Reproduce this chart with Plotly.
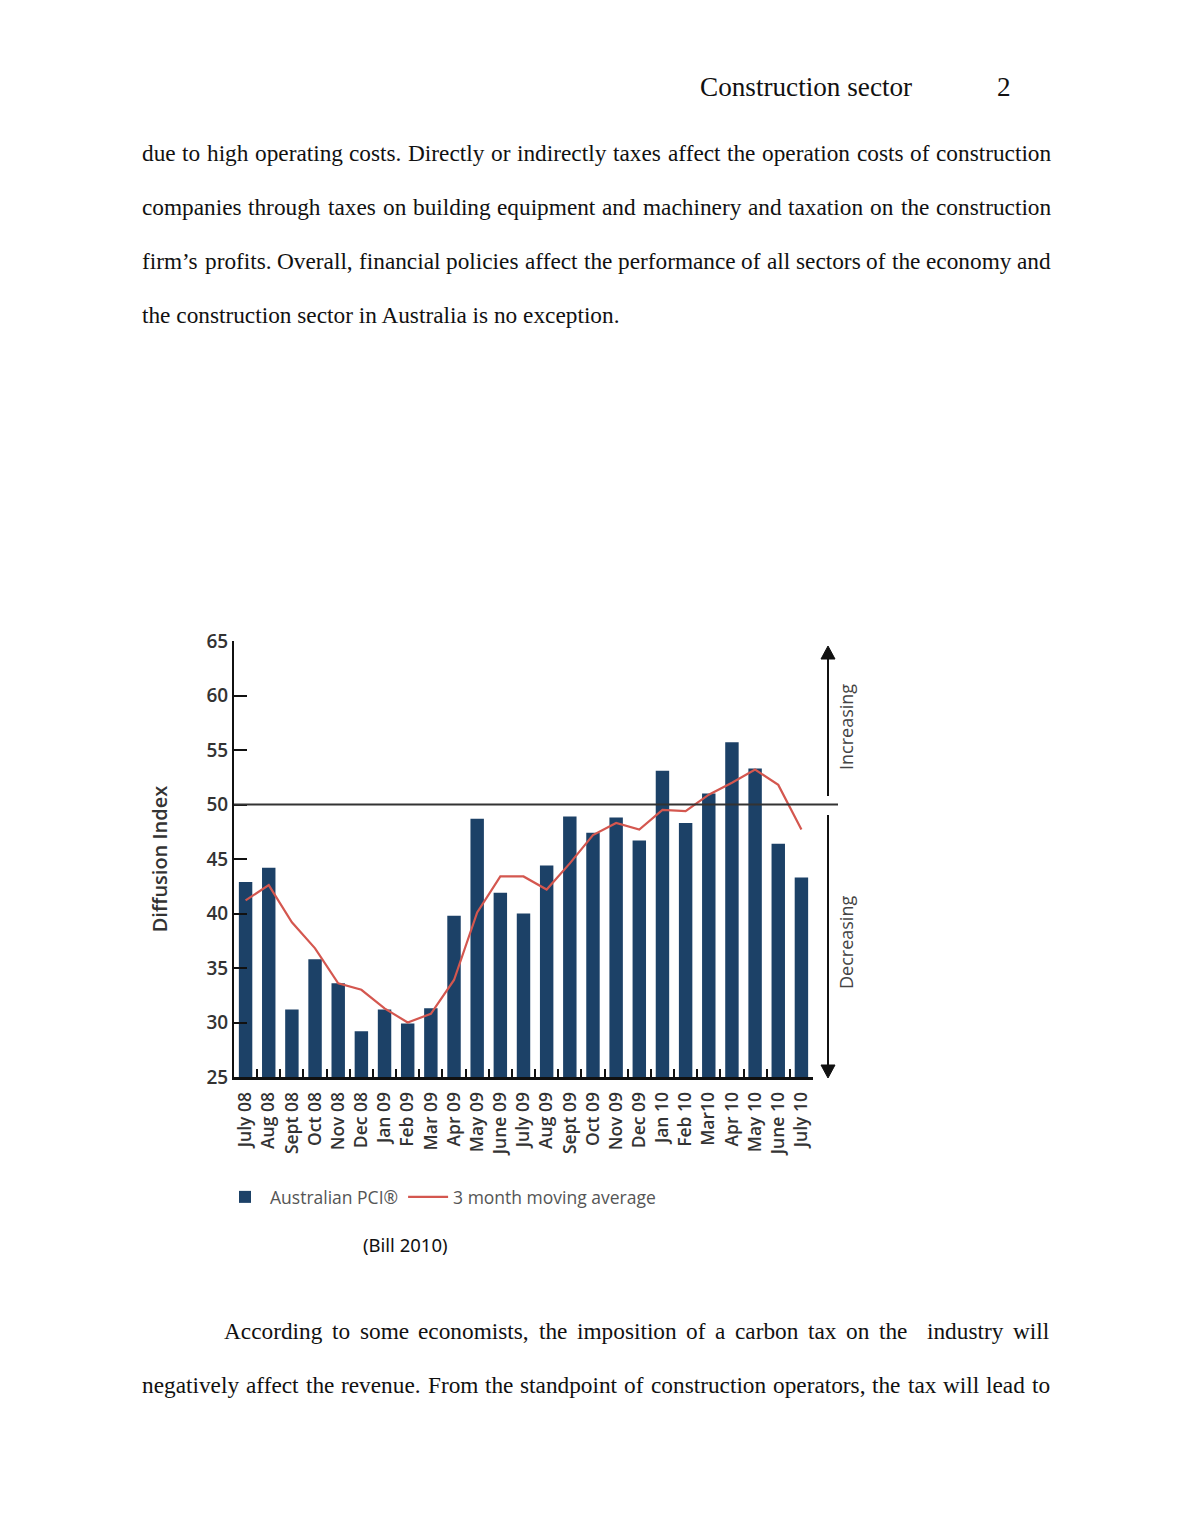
import plotly.graph_objects as go

# ---------------- data ----------------
months = ["July 08", "Aug 08", "Sept 08", "Oct 08", "Nov 08", "Dec 08", "Jan 09",
          "Feb 09", "Mar 09", "Apr 09", "May 09", "June 09", "July 09", "Aug 09",
          "Sept 09", "Oct 09", "Nov 09", "Dec 09", "Jan 10", "Feb 10", "Mar10",
          "Apr 10", "May 10", "June 10", "July 10"]
pci = [42.9, 44.2, 31.2, 35.8, 33.6, 29.2, 31.2, 29.9, 31.3, 39.8, 48.7, 41.9, 40.0,
       44.4, 48.9, 47.4, 48.8, 46.7, 53.1, 48.3, 51.0, 55.7, 53.3, 46.4, 43.3]
ma3 = [41.2, 42.6, 39.2, 36.8, 33.6, 33.0, 31.3, 30.0, 30.8, 33.9, 40.1, 43.4, 43.4,
       42.2, 44.6, 47.2, 48.3, 47.7, 49.5, 49.4, 50.9, 52.0, 53.2, 51.8, 47.7]
y_ticks = [25, 30, 35, 40, 45, 50, 55, 60, 65]

header_left = "Construction sector"
header_right = "2"
para_top = [
    "due to high operating costs. Directly or indirectly taxes affect the operation costs of construction",
    "companies through taxes on building equipment and machinery and taxation on the construction",
    "firm\u2019s profits. Overall, financial policies affect the performance of all sectors of the economy and",
    "the construction sector in Australia is no exception.",
]
para_bottom = [
    "According to some economists, the imposition of a carbon tax on the  industry will",
    "negatively affect the revenue. From the standpoint of construction operators, the tax will lead to",
]
source_note = "(Bill 2010)"

W, H = 1190, 1540
NAVY = "#1c4167"
RED = "#d4574f"
CHART_FONT = "Open Sans"
SERIF = "Liberation Serif"
BODY_SIZE = 23.3


def px_x(p):
    return p / W


def px_y(p):
    return 1 - p / H


# Times / Liberation Serif advance widths (per 1000 em) used to justify lines
_TW = dict(zip("abcdefghijklmnopqrstuvwxyz",
               [444, 500, 444, 500, 444, 333, 500, 500, 278, 278, 500, 278, 778,
                500, 500, 500, 500, 333, 389, 278, 500, 500, 722, 500, 500, 444]))
_TW.update(dict(zip("ABCDEFGHIJKLMNOPQRSTUVWXYZ",
                    [722, 667, 667, 722, 611, 556, 722, 722, 333, 389, 722, 611, 889,
                     722, 722, 556, 722, 667, 556, 611, 722, 722, 944, 722, 722, 611])))
_TW.update({".": 250, ",": 250, "\u2019": 333, " ": 250})


def word_w(word, size):
    return sum(_TW.get(ch, 500) for ch in word) * size / 1000.0


fig = go.Figure()
fig.add_trace(go.Bar(x=months, y=pci, name="Australian PCI\u00ae",
                     marker=dict(color=NAVY, line=dict(width=0)), width=0.58))
fig.add_trace(go.Scatter(x=months, y=ma3, name="3 month moving average", mode="lines",
                         line=dict(color=RED, width=2.2)))

# plot area in pixels
x0, x1 = 234, 813
y_top, y_bot = 641, 1077

fig.update_layout(
    width=W, height=H,
    margin=dict(l=0, r=0, t=0, b=0, pad=0, autoexpand=False),
    paper_bgcolor="white", plot_bgcolor="white",
    showlegend=True,
    legend=dict(orientation="h", x=px_x(220), y=px_y(1179), xanchor="left", yanchor="top",
                font=dict(family=CHART_FONT, size=17.5, color="#555555"),
                itemwidth=40, bgcolor="rgba(0,0,0,0)", traceorder="normal"),
    xaxis=dict(domain=[px_x(x0), px_x(x1)], type="category", range=[-0.5, 24.5],
               automargin=False,
               showline=True, linecolor="#111111", linewidth=3,
               ticks="inside", tickson="boundaries", ticklen=8, tickwidth=2, tickcolor="#111111",
               ticklabelstandoff=5,
               tickangle=-90, tickfont=dict(family=CHART_FONT, size=17.5, color="#333333", weight=600),
               showgrid=False, zeroline=False),
    yaxis=dict(domain=[px_y(y_bot), px_y(y_top)], range=[25, 65],
               automargin=False,
               tickvals=y_ticks, showline=True, linecolor="#111111", linewidth=2,
               ticks="inside", ticklen=13, tickwidth=2, tickcolor="#111111",
               tickfont=dict(family=CHART_FONT, size=19, color="#333333", weight=600),
               showgrid=False, zeroline=False,
               title=dict(text="Diffusion Index", standoff=33,
                          font=dict(family=CHART_FONT, size=20, color="#333333", weight=600))),
    bargap=0.42,
)

# 50 reference line
fig.add_shape(type="line", xref="paper", yref="y", x0=px_x(x0), x1=px_x(838), y0=50, y1=50,
              line=dict(color="#333333", width=2))

# Increasing / decreasing arrows
ax_px = 828
fig.add_shape(type="line", xref="paper", yref="paper", x0=px_x(ax_px), x1=px_x(ax_px),
              y0=px_y(656), y1=px_y(796), line=dict(color="#111111", width=2))
fig.add_shape(type="path", xref="paper", yref="paper",
              path=f"M {px_x(ax_px)} {px_y(646)} L {px_x(ax_px - 7)} {px_y(659)} "
                   f"L {px_x(ax_px + 7)} {px_y(659)} Z",
              fillcolor="#111111", line=dict(color="#111111", width=1))
fig.add_shape(type="line", xref="paper", yref="paper", x0=px_x(ax_px), x1=px_x(ax_px),
              y0=px_y(815), y1=px_y(1066), line=dict(color="#111111", width=2))
fig.add_shape(type="path", xref="paper", yref="paper",
              path=f"M {px_x(ax_px)} {px_y(1078)} L {px_x(ax_px - 7)} {px_y(1065)} "
                   f"L {px_x(ax_px + 7)} {px_y(1065)} Z",
              fillcolor="#111111", line=dict(color="#111111", width=1))
fig.add_annotation(x=px_x(846), y=px_y(727), xref="paper", yref="paper", text="Increasing",
                   textangle=-90, xanchor="center", yanchor="middle", showarrow=False,
                   font=dict(family=CHART_FONT, size=18, color="#444444"))
fig.add_annotation(x=px_x(846), y=px_y(943), xref="paper", yref="paper", text="Decreasing",
                   textangle=-90, xanchor="center", yanchor="middle", showarrow=False,
                   font=dict(family=CHART_FONT, size=18, color="#444444"))

# source note
fig.add_annotation(x=px_x(405), y=px_y(1244), xref="paper", yref="paper", text=source_note,
                   xanchor="center", yanchor="middle", showarrow=False,
                   font=dict(family="Noto Sans", size=18.5, color="#111111"))

# page header
fig.add_annotation(x=px_x(698), y=px_y(87), xref="paper", yref="paper", text=header_left,
                   xanchor="left", yanchor="middle", showarrow=False,
                   font=dict(family=SERIF, size=27.2, color="#111111"))
fig.add_annotation(x=px_x(1013), y=px_y(87), xref="paper", yref="paper", text=header_right,
                   xanchor="right", yanchor="middle", showarrow=False,
                   font=dict(family=SERIF, size=27.2, color="#111111"))


def add_line(text, left, right, ycen, justify):
    if not justify:
        fig.add_annotation(x=px_x(left), y=px_y(ycen), xref="paper", yref="paper", text=text,
                           xanchor="left", yanchor="middle", showarrow=False,
                           font=dict(family=SERIF, size=BODY_SIZE, color="#111111"))
        return
    words = text.split(" ")
    widths = [word_w(w, BODY_SIZE) for w in words]
    gap = (right - left - sum(widths)) / (len(words) - 1)
    pos = left
    for w, wd in zip(words, widths):
        if w:
            fig.add_annotation(x=px_x(pos), y=px_y(ycen), xref="paper", yref="paper", text=w,
                               xanchor="left", yanchor="middle", showarrow=False,
                               font=dict(family=SERIF, size=BODY_SIZE, color="#111111"))
        pos += wd + gap


for i, line in enumerate(para_top):
    add_line(line, 140, 1049, 153 + 54 * i, justify=(i < len(para_top) - 1))
add_line(para_bottom[0], 222, 1047, 1331, True)
add_line(para_bottom[1], 140, 1048, 1385, True)

fig.write_html("out.html", config={"displayModeBar": False},
               post_script="document.body.style.margin='0';")
